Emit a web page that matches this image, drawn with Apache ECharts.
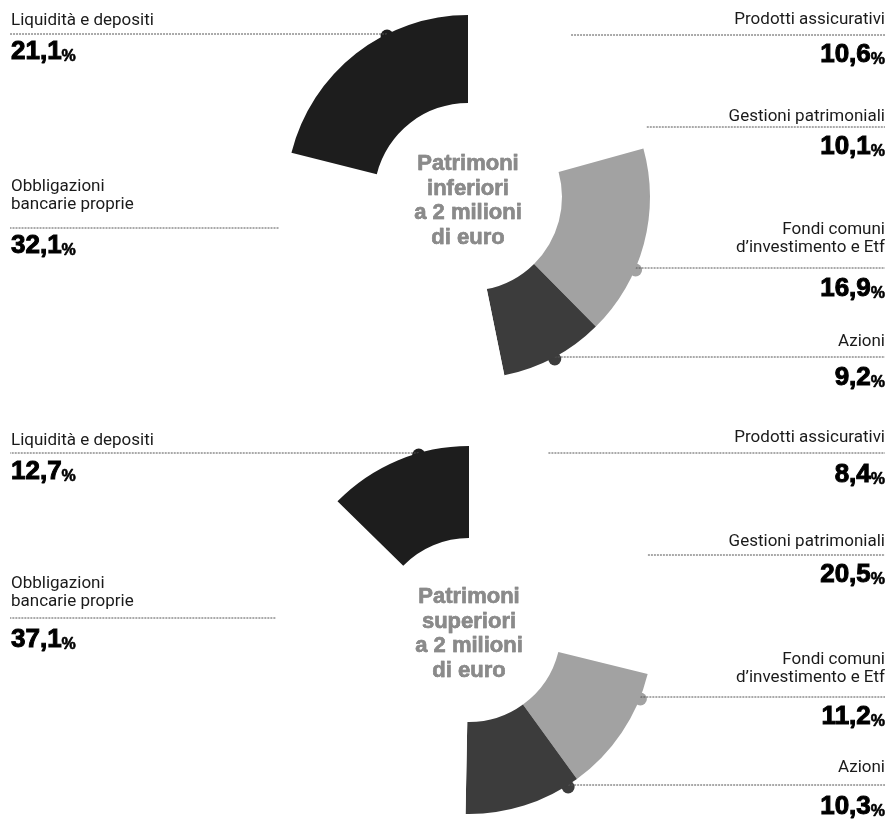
<!DOCTYPE html>
<html><head><meta charset="utf-8">
<script src="https://cdn.jsdelivr.net/npm/echarts@6/dist/echarts.min.js"></script>
<style>html,body{margin:0;padding:0;background:#fff}#c{width:895px;height:836px}</style>
</head><body><div id="c"></div>
<script>
// ---- data ----
const categories = ['Prodotti assicurativi', 'Gestioni patrimoniali', 'Fondi comuni\nd\u2019investimento e Etf', 'Azioni', 'Obbligazioni\nbancarie proprie', 'Liquidità e depositi'];
const valuesInferiori = [10.6, 10.1, 16.9, 9.2, 32.1, 21.1];
const valuesSuperiori = [8.4, 20.5, 11.2, 10.3, 37.1, 12.7];
const centerTitles = ['Patrimoni\ninferiori\na 2 milioni\ndi euro', 'Patrimoni\nsuperiori\na 2 milioni\ndi euro'];

// ---- styles / layout ----
const sliceColors = ['#ffffff', '#ffffff', '#a2a2a2', '#3c3c3c', '#ffffff', '#1d1d1d'];
const NAME_FONT = "Roboto,'Liberation Sans',sans-serif";
const BOLD_FONT = "'Liberation Sans',Arial,sans-serif";
const LEFT_X = 11, RIGHT_X = 885;
// label layout per slice: [side, name last-line centre y, line y, value centre y]
const panels = [
  { values: valuesInferiori, title: centerTitles[0], center: [468, 197], radius: [94, 182], textY: 201,
    labels: [['r', 20, 35, 55], ['r', 117, 127, 147], ['r', 248, 268, 289], ['r', 342, 357, 378], ['l', 205, 228, 246], ['l', 21, 34, 52]] },
  { values: valuesSuperiori, title: centerTitles[1], center: [469, 630], radius: [92, 184], textY: 634,
    labels: [['r', 438, 453, 475], ['r', 542, 555, 575], ['r', 678, 697, 717], ['r', 768, 785, 807], ['l', 602, 618, 640], ['l', 441, 453, 472]] }
];

function isWhite(i) { return sliceColors[i] === '#ffffff'; }
function edgeX(p, i) {
  const L = p.labels[i];
  const R = p.radius[1] + (isWhite(i) ? 10 : 0);
  const dy = L[2] - p.center[1];
  const dx = Math.sqrt(Math.max(0, R * R - dy * dy));
  return L[0] === 'r' ? p.center[0] + dx : p.center[0] - dx;
}
function fmt(v) { return v.toFixed(1).replace('.', ','); }

const series = [];
const graphic = [];
panels.forEach((p) => {
  const data = categories.map((c, i) => ({ name: c, value: p.values[i], itemStyle: { color: sliceColors[i] } }));
  series.push({
    type: 'pie', center: p.center, radius: p.radius, startAngle: 90, clockwise: true,
    avoidLabelOverlap: false, silent: true, animation: false,
    data: data,
    label: { show: true, position: 'outside', formatter: '{b}', fontFamily: NAME_FONT, fontSize: 17, lineHeight: 18, color: '#1a1a1a' },
    labelLine: { show: true, lineStyle: { color: '#555', width: 1, type: [2, 1] } },
    labelLayout: function (prm) {
      const i = prm.dataIndex, L = p.labels[i], right = L[0] === 'r';
      const ex = edgeX(p, i), endX = right ? RIGHT_X : LEFT_X - 1;
      return { x: right ? RIGHT_X : LEFT_X, y: L[1] + 9, align: right ? 'right' : 'left', verticalAlign: 'bottom',
        labelLinePoints: [[ex, L[2]], [ex, L[2]], [endX, L[2]]] };
    }
  });
  series.push({
    type: 'pie', center: p.center, radius: p.radius, startAngle: 90, clockwise: true,
    avoidLabelOverlap: false, silent: true, animation: false,
    data: categories.map((c, i) => ({ name: c, value: p.values[i] })),
    itemStyle: { color: 'rgba(0,0,0,0)' },
    label: { show: true, position: 'outside',
      formatter: (d) => '{v|' + fmt(d.value) + '}{p|%}',
      rich: {
        v: { fontFamily: BOLD_FONT, fontWeight: 'bold', fontSize: 26, lineHeight: 26, color: '#000', textBorderColor: '#000', textBorderWidth: 1 },
        p: { fontFamily: BOLD_FONT, fontWeight: 'bold', fontSize: 16, lineHeight: 19, verticalAlign: 'bottom', color: '#000', textBorderColor: '#000', textBorderWidth: 0.6 }
      } },
    labelLine: { show: false },
    labelLayout: function (prm) {
      const L = p.labels[prm.dataIndex], right = L[0] === 'r';
      return { x: right ? RIGHT_X : LEFT_X, y: L[3], align: right ? 'right' : 'left', verticalAlign: 'middle' };
    }
  });
  // centre title
  graphic.push({ type: 'text', x: p.center[0], y: p.textY, silent: true,
    style: { text: p.title, align: 'center', verticalAlign: 'middle', fontFamily: BOLD_FONT, fontWeight: 'bold', fontSize: 22, lineHeight: 24.5, fill: '#8a8a8a', stroke: '#5a5a5a', lineWidth: 0.5 } });
  // dots where leader lines meet coloured slices
  categories.forEach((c, i) => {
    if (isWhite(i)) return;
    graphic.push({ type: 'circle', silent: true, shape: { cx: edgeX(p, i), cy: p.labels[i][2] + 2, r: 6.5 }, style: { fill: sliceColors[i] } });
  });
});

const chart = echarts.init(document.getElementById('c'), null, { renderer: 'canvas' });
chart.setOption({ backgroundColor: '#ffffff', animation: false, series: series, graphic: graphic });
</script>
</body></html>
